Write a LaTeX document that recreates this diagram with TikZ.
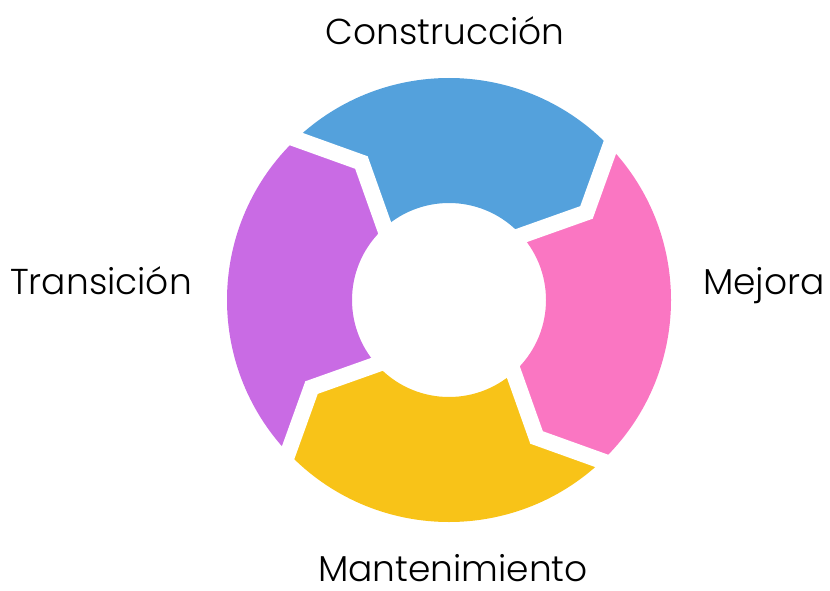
\documentclass[tikz,border=0pt]{standalone}
\usepackage{fontspec}
\setmainfont{Poppins}[UprightFont=* Light]
\definecolor{cblue}{HTML}{54A1DC}
\definecolor{cpink}{HTML}{FA76C2}
\definecolor{cyellow}{HTML}{F8C318}
\definecolor{cpurple}{HTML}{C96BE4}
\newcommand\cycseg[3]{% color, start angle, name
  \fill[#1] (#2:222) arc[start angle=#2, end angle=#2-90, radius=222]
    -- (#2-102.5:163) -- (#2-90:97)
    arc[start angle=#2-90, end angle=#2, radius=97]
    -- (#2-12.5:163) -- cycle;}
\begin{document}
\begin{tikzpicture}[x=0.75pt,y=0.75pt,
  lbl/.style={font=\fontsize{27}{31}\selectfont, text=black, inner sep=0pt, anchor=base},
  gapline/.style={white, line width=12, line join=miter}]
\useasboundingbox (0,0) rectangle (830,590);
\coordinate (O) at (449,290);
\begin{scope}[shift={(O)}]
  \cycseg{cblue}{135}{s1}
  \cycseg{cpink}{45}{s2}
  \cycseg{cyellow}{-45}{s3}
  \cycseg{cpurple}{-135}{s4}
  \foreach \t in {45,135,225,315}
    \draw[gapline] (\t:234) -- (\t-12.5:163) -- (\t:85);
\end{scope}
\node[lbl] (construccion) at (445,545) {Construcción};
\node[lbl] (mejora) at (764,296) {Mejora};
\node[lbl] (mantenimiento) at (453,9) {Mantenimiento};
\node[lbl] (transicion) at (101,296) {Transición};
\end{tikzpicture}
\end{document}
